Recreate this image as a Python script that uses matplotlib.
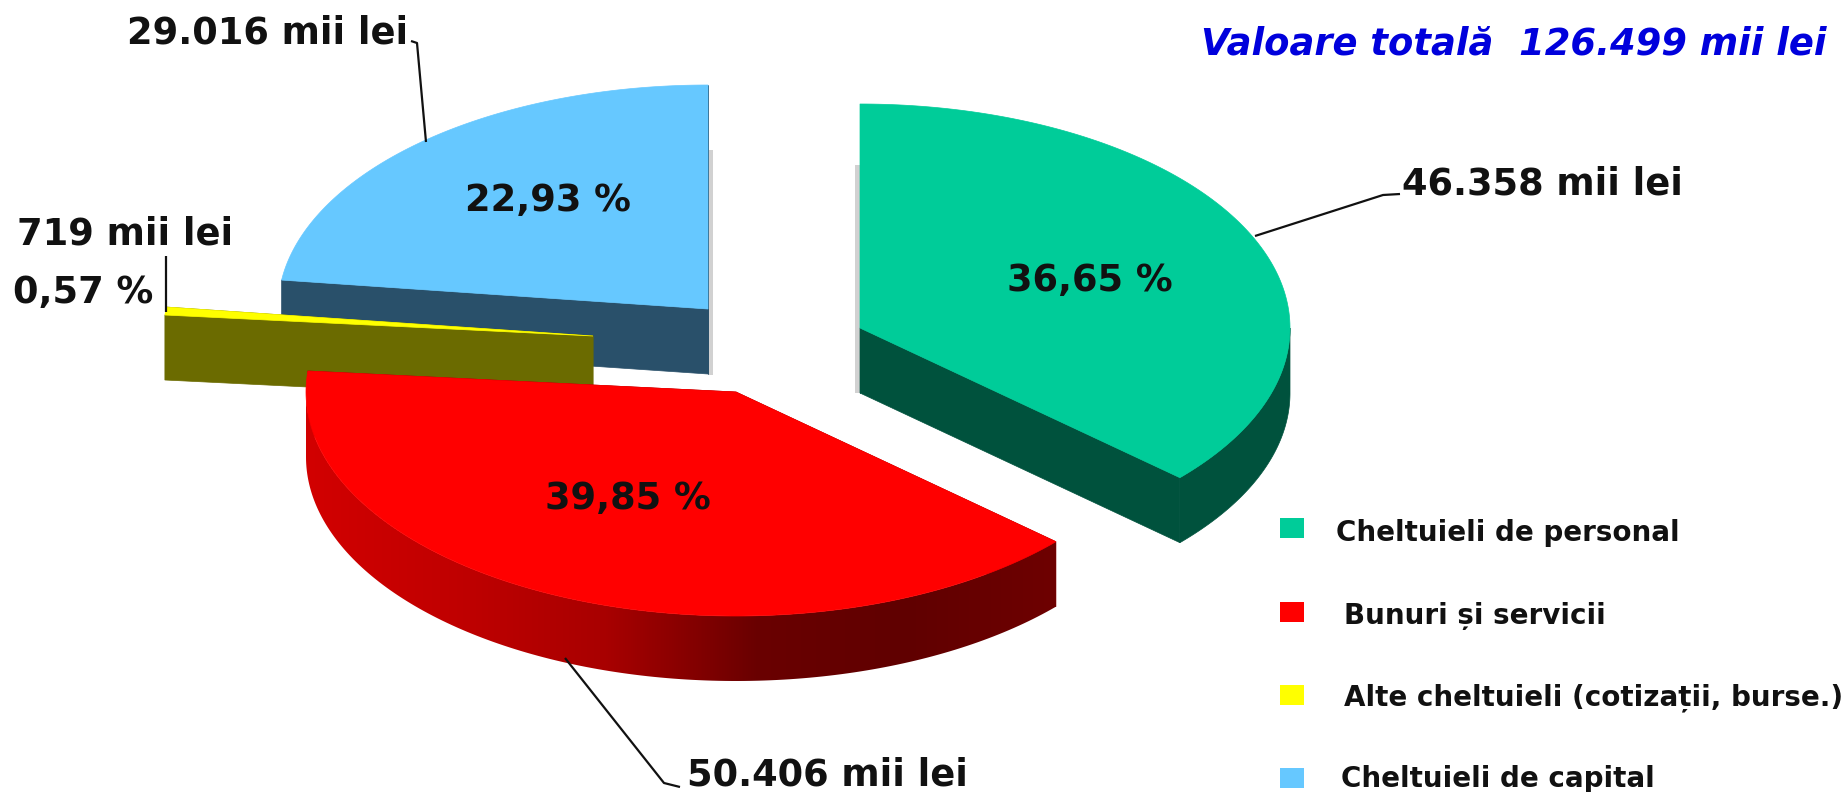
import numpy as np
import matplotlib
matplotlib.use('Agg')
import matplotlib.pyplot as plt
from matplotlib.colors import LinearSegmentedColormap
from matplotlib.patches import Polygon, Rectangle

# data
categories = ['Cheltuieli de personal', 'Bunuri și servicii',
              'Alte cheltuieli (cotizații, burse.)', 'Cheltuieli de capital']
values = [46358, 50406, 719, 29016]
value_labels = ['46.358 mii lei', '50.406 mii lei', '719 mii lei', '29.016 mii lei']
percent_labels = ['36,65 %', '39,85 %', '0,57 %', '22,93 %']
total_label = 'Valoare totală  126.499 mii lei'

top_colors = ['#00CC99', '#FF0000', '#FFFF00', '#66C8FF']
side_colors = ['#00523D', '#8A0000', '#6B6B00', '#29506A']

# layout in pixels of the output image
W, H = 1847, 792
RX, RY, DEPTH = 430, 224, 65
apex = [(860, 328), (736, 392), (593, 336), (708, 309)]
draw_order = [3, 2, 0, 1]

fig = plt.figure(figsize=(W / 100, H / 100), dpi=100)
ax = fig.add_axes([0, 0, 1, 1])
ax.axis('off')
plt.rcParams['font.family'] = ['DejaVu Sans']


def rim(cx, cy, a0, a1, n=160):
    # angles are clockwise from 12 o'clock, like the pie
    t = np.radians(np.linspace(a0, a1, n))
    return np.column_stack([cx + RX * np.sin(t), cy - RY * np.cos(t)])


def radial_face(cx, cy, a, color):
    p = rim(cx, cy, a, a, 1)[0]
    pts = [(cx, cy), p, (p[0], p[1] + DEPTH), (cx, cy + DEPTH)]
    ax.add_patch(Polygon(pts, closed=True, fc=color, ec=color, lw=0.5))


def outer_side(cx, cy, a0, a1):
    lo, hi = max(a0, 90), min(a1, 270)
    if lo >= hi:
        return None
    arc = rim(cx, cy, lo, hi)
    low = arc + [0, DEPTH]
    return np.vstack([arc, low[::-1]])


red_side = LinearSegmentedColormap.from_list(
    'red_side', ['#D20000', '#C00000', '#A80000', '#6A0000', '#600000', '#6E0000'])

angles = np.cumsum([0] + values) / sum(values) * 360

# soft wall behind the cut edges of the two upper slices
ax.add_patch(Rectangle((apex[3][0], 150), 5, 225, fc='#999999', alpha=0.45, lw=0))
ax.add_patch(Rectangle((apex[0][0] - 5, 165), 5, 228, fc='#999999', alpha=0.45, lw=0))

for i in draw_order:
    cx, cy = apex[i]
    a0, a1 = angles[i], angles[i + 1]
    radial_face(cx, cy, a0, side_colors[i])
    radial_face(cx, cy, a1, side_colors[i])
    side = outer_side(cx, cy, a0, a1)
    if side is not None:
        if i == 1:
            patch = Polygon(side, closed=True, fc='none', ec='none')
            ax.add_patch(patch)
            grad = np.linspace(0, 1, 256).reshape(1, -1)
            im = ax.imshow(grad, cmap=red_side, aspect='auto',
                           extent=[side[:, 0].min(), side[:, 0].max(),
                                   side[:, 1].max(), side[:, 1].min()], zorder=patch.get_zorder())
            im.set_clip_path(patch)
        else:
            ax.add_patch(Polygon(side, closed=True, fc=side_colors[i], ec=side_colors[i], lw=0.5))
    top = np.vstack([[(cx, cy)], rim(cx, cy, a0, a1)])
    ax.add_patch(Polygon(top, closed=True, fc=top_colors[i], ec=top_colors[i], lw=0.5, zorder=2))

ax.set_xlim(0, W)
ax.set_ylim(H, 0)

# leader lines
leaders = [
    ([1255, 1383, 1400], [236, 195, 194]),
    ([565, 664, 680], [658, 783, 787]),
    ([166, 166], [256, 312]),
    ([426, 417, 411], [142, 43, 41]),
]
for lx, ly in leaders:
    ax.plot(lx, ly, color='#111111', lw=1.6, zorder=3, solid_capstyle='butt')

# value labels
big = dict(fontweight='bold', color='#111111', va='center', ha='left', zorder=4)
value_pos = [(1402, 184), (687, 775), (17, 234), (127, 33)]
for (x, y), s in zip(value_pos, value_labels):
    ax.text(x, y, s, fontsize=26.5, **big)

pct_pos = [(1007, 281), (545, 499), (13, 292), (465, 201)]
for (x, y), s in zip(pct_pos, percent_labels):
    ax.text(x, y, s, fontsize=26.5, **big)

ax.text(1201, 44, total_label, fontsize=26.6, fontweight='bold', style='italic',
        color='#0000DC', va='center', ha='left', zorder=4)

# legend
legend_y = [528, 612, 695, 778]
legend_text_y = [533, 616, 698, 779]
legend_x = [1336, 1344, 1344, 1341]
for i, name in enumerate(categories):
    ax.add_patch(Rectangle((1280, legend_y[i] - 10), 24, 20, fc=top_colors[i], lw=0, zorder=3))
    ax.text(legend_x[i], legend_text_y[i], name, fontsize=20, **big)

fig.savefig('out.png', dpi=100)
